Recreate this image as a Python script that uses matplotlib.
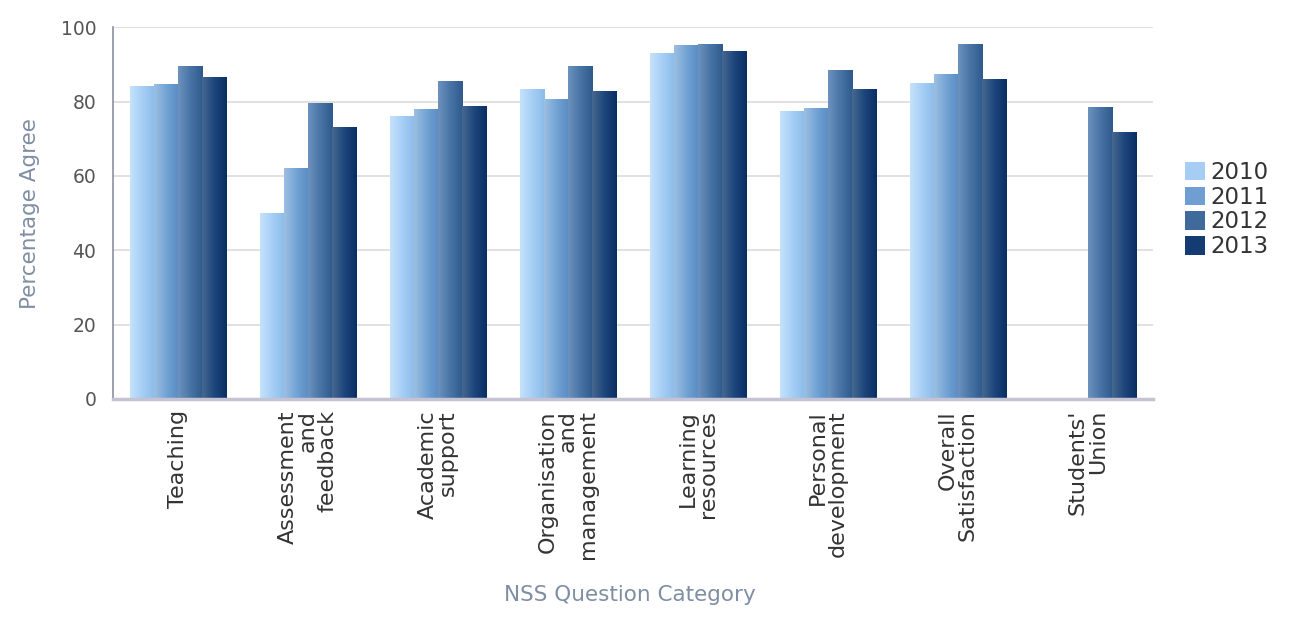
import numpy as np
import matplotlib
matplotlib.use("Agg")
import matplotlib.pyplot as plt
from matplotlib.colors import LinearSegmentedColormap
from matplotlib.patches import Patch

categories = [
    "Teaching",
    "Assessment\nand\nfeedback",
    "Academic\nsupport",
    "Organisation\nand\nmanagement",
    "Learning\nresources",
    "Personal\ndevelopment",
    "Overall\nSatisfaction",
    "Students'\nUnion",
]
years = ["2010", "2011", "2012", "2013"]

vals_2010 = [84, 50, 76, 83.3, 93, 77.3, 84.8, np.nan]
vals_2011 = [84.5, 62, 77.8, 80.7, 95, 78.2, 87.2, np.nan]
vals_2012 = [89.5, 79.5, 85.5, 89.4, 95.4, 88.3, 95.3, 78.3]
vals_2013 = [86.5, 73, 78.8, 82.7, 93.6, 83.3, 86, 71.6]
series = [vals_2010, vals_2011, vals_2012, vals_2013]

# left -> middle -> right shading for each year
shades = [
    ["#c4e2fc", "#a6cef5", "#8cbce9"],
    ["#9cbfe2", "#73a3d5", "#5a8cc3"],
    ["#6d92bd", "#4774a6", "#30598c"],
    ["#46688f", "#1d467d", "#0a2e62"],
]
solid = ["#a6cef5", "#6f9fd2", "#40699c", "#143c72"]

fig = plt.figure(figsize=(12.94, 6.2), dpi=100)
ax = fig.add_axes([0.0873, 0.3565, 0.8037, 0.5995])

x = np.arange(len(categories))
width = 0.185
grad = np.linspace(0, 1, 64).reshape(1, -1)

for i, vals in enumerate(series):
    offs = (i - 1.5) * width
    bars = ax.bar(x + offs, vals, width, color="none", edgecolor="none")
    cmap = LinearSegmentedColormap.from_list(f"y{i}", shades[i])
    for b in bars:
        h = b.get_height()
        if np.isnan(h) or h <= 0:
            continue
        ax.imshow(grad, extent=[b.get_x(), b.get_x() + b.get_width(), 0, h],
                  aspect="auto", cmap=cmap, zorder=2, interpolation="bilinear")

ax.set_xlim(-0.5, len(categories) - 0.5)
ax.set_ylim(0, 100)
ax.set_yticks([0, 20, 40, 60, 80, 100])
ax.set_xticks(x)
ax.set_xticklabels(categories, rotation=90, ha="center", va="top",
                   multialignment="right", fontsize=16, color="#333333",
                   linespacing=1.0)
ax.tick_params(axis="both", length=0)
ax.tick_params(axis="y", labelsize=13.5, labelcolor="#555555", pad=12)
ax.tick_params(axis="x", pad=8)

ax.grid(axis="y", color="#dcdcdc", linewidth=1.2, zorder=0)
ax.set_axisbelow(True)
for s in ["top", "right"]:
    ax.spines[s].set_visible(False)
ax.spines["left"].set_color("#8a90a4")
ax.spines["left"].set_linewidth(1.2)
ax.spines["bottom"].set_color("#c3c3d3")
ax.spines["bottom"].set_linewidth(2.5)

ax.set_ylabel("Percentage Agree", fontsize=15.5, color="#7f8ea3", labelpad=15)
fig.text(0.487, 0.04, "NSS Question Category", fontsize=15.5, color="#7f8ea3",
         ha="center", va="center")

handles = [Patch(facecolor=c, edgecolor="none") for c in solid]
fig.legend(handles, years, loc="center left", bbox_to_anchor=(0.9, 0.662),
           frameon=False, fontsize=16.5, handlelength=0.85, handleheight=0.85,
           labelspacing=0.08, handletextpad=0.25, labelcolor="#333333")

fig.savefig("out.png", dpi=100)
